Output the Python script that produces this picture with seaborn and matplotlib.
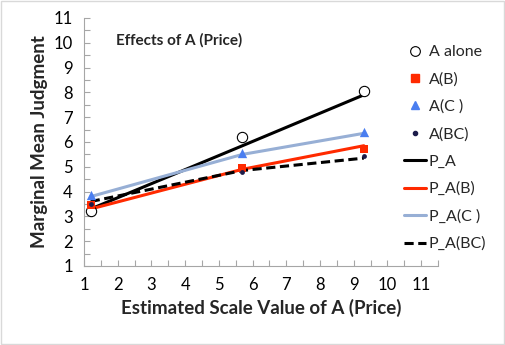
import matplotlib
matplotlib.use("Agg")
import matplotlib.pyplot as plt
import seaborn as sns
import pandas as pd
from matplotlib.lines import Line2D
from matplotlib.patches import Rectangle

# ---- data ----
x_vals = [1.2, 5.7, 9.3]
a_alone = [3.2, 6.2, 8.05]
a_b = [3.45, 4.95, 5.7]
a_c = [3.85, 5.55, 6.4]
a_bc = [3.5, 4.8, 5.45]
p_a = [3.3, 5.85, 7.9]
p_a_b = [3.3, 4.9, 5.85]
p_a_c = [3.8, 5.5, 6.35]
p_a_bc = [3.6, 4.85, 5.35]
x_ticks = list(range(1, 12))
y_ticks = list(range(1, 12))

sns.set_theme(style="white")
plt.rcParams['font.family'] = ['Lato', 'DejaVu Sans']

fig = plt.figure(figsize=(5.06, 3.45), dpi=100)
ax = fig.add_axes([84/506, (345-266)/345, (438-84)/506, (266-18)/345])

line_specs = [
    ("P_A", p_a, "black", "-"),
    ("P_A(B)", p_a_b, "#ff2a00", "-"),
    ("P_A(C)", p_a_c, "#97afd5", "-"),
    ("P_A(BC)", p_a_bc, "black", (0, (3, 1.5))),
]
for name, ys, col, ls in line_specs:
    df = pd.DataFrame({"x": x_vals, "y": ys})
    sns.lineplot(data=df, x="x", y="y", ax=ax, color=col, linestyle=ls,
                 linewidth=2.2, sort=False, estimator=None, legend=False)

scat_specs = [
    ("A alone", a_alone, dict(marker="o", s=55, facecolor="white", edgecolor="black", linewidth=0.8)),
    ("A(B)", a_b, dict(marker="s", s=35, color="#ff2a00", edgecolor="#ff2a00", linewidth=0)),
    ("A(C)", a_c, dict(marker="^", s=45, color="#4a7ef0", edgecolor="#4a7ef0", linewidth=0)),
    ("A(BC)", a_bc, dict(marker="o", s=12, color="#1c1c4a", edgecolor="#1c1c4a", linewidth=0)),
]
for name, ys, kw in scat_specs:
    df = pd.DataFrame({"x": x_vals, "y": ys})
    sns.scatterplot(data=df, x="x", y="y", ax=ax, legend=False, zorder=5, **kw)

ax.set_xlim(1, 11.5)
ax.set_ylim(1, 11)
ax.set_xticks(x_ticks)
ax.set_yticks(y_ticks)
ax.set_xticks([v + 0.5 for v in x_ticks], minor=True)
ax.set_yticks([v + 0.5 for v in y_ticks[:-1]], minor=True)
ax.tick_params(axis="both", which="both", direction="in", length=4, width=0.8,
               color="#a6a6a6", labelsize=12, labelcolor="black", pad=8)
ax.tick_params(axis="both", which="both", bottom=True, left=True)
for side in ["top", "right"]:
    ax.spines[side].set_visible(False)
for side in ["left", "bottom"]:
    ax.spines[side].set_color("#a6a6a6")
    ax.spines[side].set_linewidth(0.8)

ax.set_xlabel("Estimated Scale Value of A (Price)", fontsize=13.5, fontweight="bold", labelpad=4)
ax.set_ylabel("Marginal Mean Judgment", fontsize=13.5, fontweight="bold", labelpad=4)
ax.text(0.09, 0.91, "Effects of A (Price)", transform=ax.transAxes, fontsize=11,
        fontweight="bold", ha="left", va="center")

handles = [
    Line2D([], [], linestyle="none", marker="o", markersize=7, markerfacecolor="white", markeredgecolor="black", markeredgewidth=0.8),
    Line2D([], [], linestyle="none", marker="s", markersize=5.5, color="#ff2a00"),
    Line2D([], [], linestyle="none", marker="^", markersize=6, color="#4a7ef0"),
    Line2D([], [], linestyle="none", marker="o", markersize=3, color="#1c1c4a"),
    Line2D([], [], color="black", linewidth=2.2),
    Line2D([], [], color="#ff2a00", linewidth=2.2),
    Line2D([], [], color="#97afd5", linewidth=2.2),
    Line2D([], [], color="black", linewidth=2.2, linestyle=(0, (3, 1.5))),
]
labels = ["A alone", "A(B)", "A(C )", "A(BC)", "P_A", "P_A(B)", "P_A(C )", "P_A(BC)"]
fig.legend(handles, labels, loc="upper left", bbox_to_anchor=(396/506, 1 - 37/345),
           frameon=False, fontsize=11.5, handlelength=1.35, handletextpad=0.2,
           labelspacing=0.82, borderpad=0)

fig.add_artist(Rectangle((0.002, 0.003), 0.994, 0.994, transform=fig.transFigure,
                         fill=False, edgecolor="#d9d9d9", linewidth=1))

fig.savefig("out.png", dpi=100)
